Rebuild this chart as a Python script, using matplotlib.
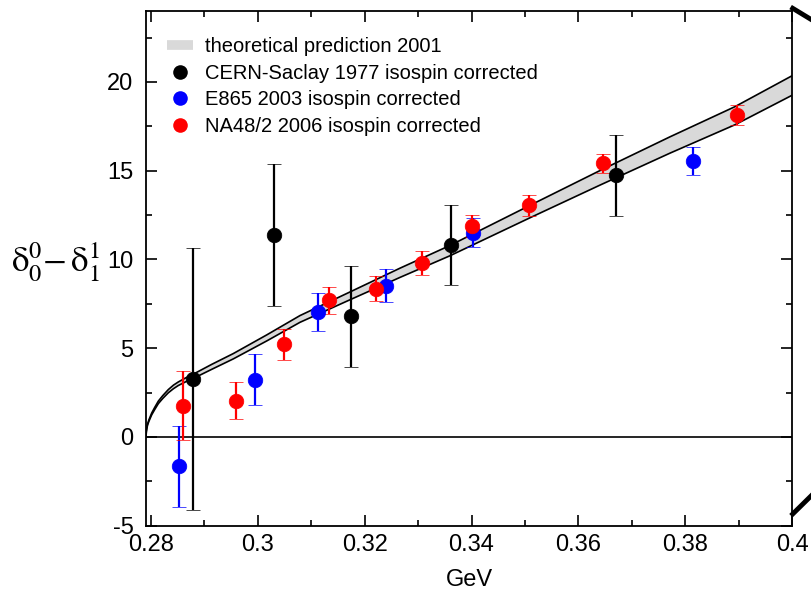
import matplotlib
matplotlib.use("Agg")
import matplotlib.pyplot as plt
from matplotlib.lines import Line2D
import numpy as np

plt.rcParams['font.family'] = ['Liberation Sans', 'DejaVu Sans']
plt.rcParams['mathtext.fontset'] = 'stix'
plt.rcParams['axes.unicode_minus'] = False

# theory band: centre line and half width, sampled along the curve
band_x = [0.27906, 0.27912, 0.27920, 0.27935, 0.27960, 0.28013, 0.28070, 0.28137,
          0.28220, 0.28324, 0.28420, 0.28511, 0.28650, 0.28792, 0.29136, 0.29541,
          0.30166, 0.30789, 0.31725, 0.32661, 0.33597, 0.35095, 0.36405, 0.37715,
          0.38932, 0.40000]
band_mid = [0.0, 0.3, 0.47, 0.7, 0.92, 1.3, 1.61, 1.95,
            2.25, 2.58, 2.82, 3.0, 3.22, 3.42, 3.95, 4.55,
            5.58, 6.65, 7.95, 9.25, 10.5, 12.7, 14.6, 16.45,
            18.1, 19.8]
band_half = [0.02, 0.02, 0.03, 0.03, 0.04, 0.05, 0.06, 0.07,
             0.08, 0.09, 0.1, 0.1, 0.11, 0.12, 0.14, 0.15,
             0.17, 0.19, 0.22, 0.26, 0.29, 0.35, 0.41, 0.46,
             0.51, 0.55]

# CERN-Saclay 1977
cern_x = [0.28792, 0.30297, 0.31738, 0.33610, 0.36705]
cern_y = [3.27, 11.37, 6.80, 10.81, 14.74]
cern_err = [7.4, 4.0, 2.85, 2.25, 2.3]

# E865 2003
e865_x = [0.28519, 0.29947, 0.31121, 0.32399, 0.34022, 0.38140]
e865_y = [-1.66, 3.23, 7.03, 8.53, 11.51, 15.54]
e865_err = [2.3, 1.42, 1.08, 0.95, 0.82, 0.78]

# NA48/2 2006
na48_x = [0.28593, 0.29591, 0.30490, 0.31338, 0.32206, 0.33073, 0.34003,
          0.35082, 0.36456, 0.38975]
na48_y = [1.77, 2.05, 5.21, 7.69, 8.35, 9.80, 11.88, 13.05, 15.41, 18.12]
na48_err = [1.95, 1.05, 0.9, 0.77, 0.7, 0.7, 0.62, 0.6, 0.55, 0.57]

x_ticks = [0.28, 0.30, 0.32, 0.34, 0.36, 0.38, 0.40]
x_ticklabels = ['0.28', '0.3', '0.32', '0.34', '0.36', '0.38', '0.4']
y_ticks = [-5, 0, 5, 10, 15, 20]
y_ticklabels = ['-5', '0', '5', '10', '15', '20']

fig = plt.figure(figsize=(8.12, 5.97), dpi=100)
ax = fig.add_axes([0.1798, 0.1194, 0.7956, 0.8622])

ax.axhline(0, color='black', lw=1.2, zorder=1)

mid = np.array(band_mid)
half = np.array(band_half)
ax.fill_between(band_x, mid - half, mid + half, facecolor='#d9d9d9',
                edgecolor='none', zorder=2)
ax.plot(band_x, mid - half, color='black', lw=1.2, zorder=3)
ax.plot(band_x, mid + half, color='black', lw=1.2, zorder=3)

def points(x, y, err, color):
    ax.errorbar(x, y, yerr=err, fmt='o', color=color, ms=10.5, mec=color,
                mew=0.5, ecolor=color, elinewidth=1.6, capsize=5,
                capthick=1.6, zorder=5)

points(cern_x, cern_y, cern_err, 'black')
points(e865_x, e865_y, e865_err, '#0000ff')
points(na48_x, na48_y, na48_err, '#ff0000')

ax.set_xlim(0.27906, 0.4)
ax.set_ylim(-5, 24)
ax.set_xticks(x_ticks)
ax.set_xticklabels(x_ticklabels)
ax.set_xticks(np.arange(0.29, 0.40, 0.02), minor=True)
ax.set_yticks(y_ticks)
ax.set_yticklabels(y_ticklabels)
ax.set_yticks([-2.5, 2.5, 7.5, 12.5, 17.5, 22.5], minor=True)
ax.tick_params(which='both', direction='in', top=True, right=True,
               labelsize=17, width=1.2, colors='black')
ax.tick_params(which='major', length=8)
ax.tick_params(which='minor', length=4.5)
ax.tick_params(axis='x', pad=6)
ax.tick_params(axis='y', pad=9)
for s in ax.spines.values():
    s.set_linewidth(1.3)

ax.set_xlabel('GeV', fontsize=17, labelpad=9)
fig.text(0.068, 0.561, r'$\mathrm{\delta}_0^0{-}\,\mathrm{\delta}_1^1$',
         fontsize=25, ha='center', va='center')

handles = [
    Line2D([], [], color='#d9d9d9', lw=7, solid_capstyle='butt'),
    Line2D([], [], ls='none', marker='o', color='black', ms=10.5, mew=0),
    Line2D([], [], ls='none', marker='o', color='#0000ff', ms=10.5, mew=0),
    Line2D([], [], ls='none', marker='o', color='#ff0000', ms=10.5, mew=0),
]
labels = ['theoretical prediction 2001',
          'CERN-Saclay 1977 isospin corrected',
          'E865 2003 isospin corrected',
          'NA48/2 2006 isospin corrected']
ax.legend(handles, labels, loc='upper left', bbox_to_anchor=(0.0325, 0.949),
          frameon=False, fontsize=14.5, handlelength=1.3, handletextpad=0.6,
          labelspacing=0.37, borderpad=0, borderaxespad=0)

# edges of the enclosing frame on the right
fig.add_artist(Line2D([792.7 / 812, 1.0], [1 - 8.3 / 597, 1 - 20 / 597],
                      color='black', lw=3.5, transform=fig.transFigure))
fig.add_artist(Line2D([792.7 / 812, 1.0], [1 - 514 / 597, 1 - 495 / 597],
                      color='black', lw=3.5, transform=fig.transFigure))

fig.savefig('out.png', dpi=100)
